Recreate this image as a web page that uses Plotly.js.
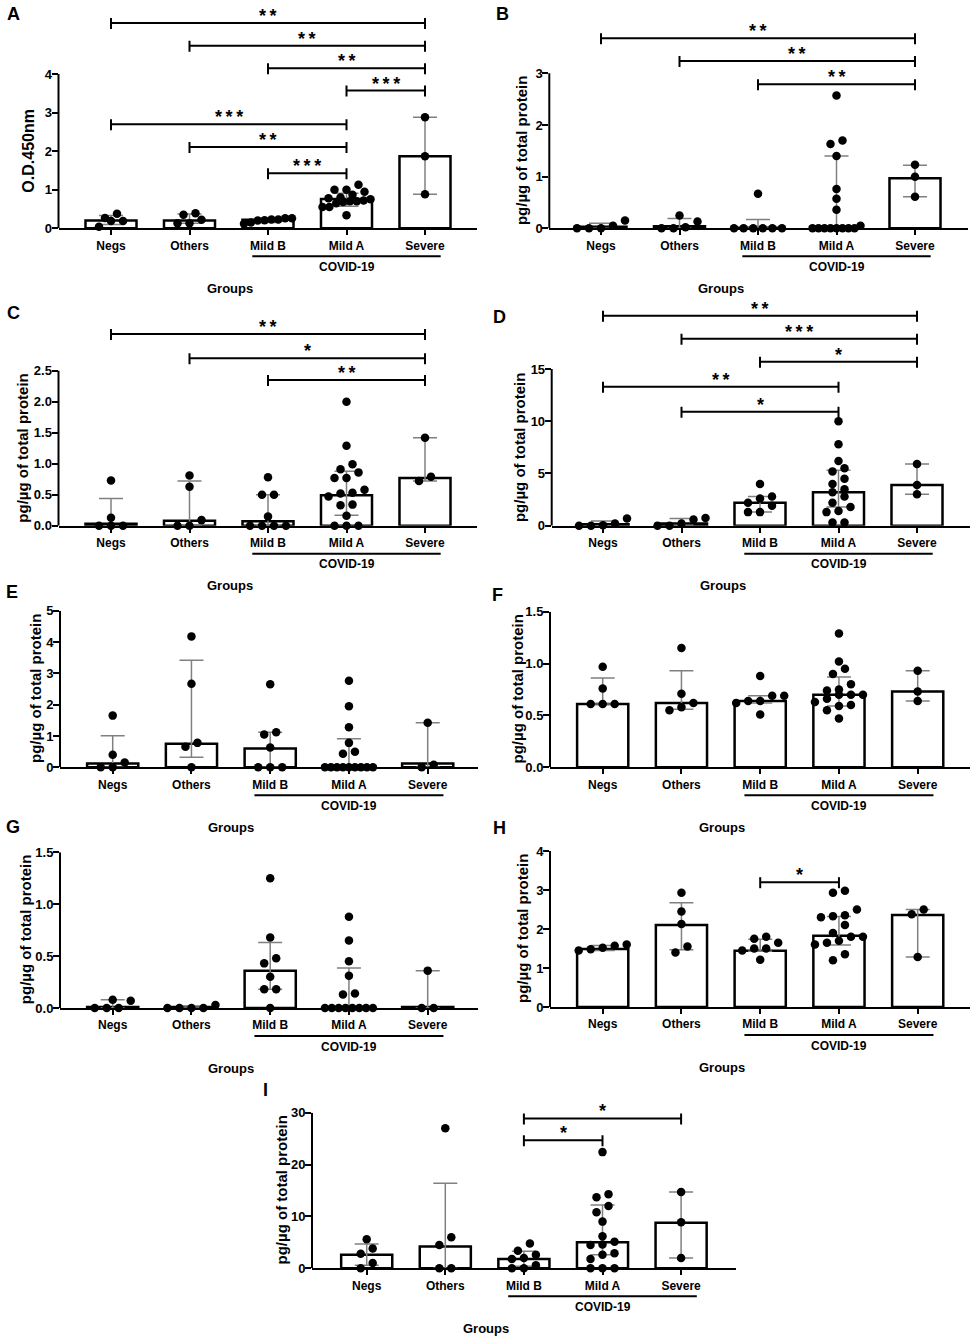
<!DOCTYPE html>
<html><head><meta charset="utf-8">
<script src="https://cdn.plot.ly/plotly-3.0.1.min.js"></script>
<style>html,body{margin:0;padding:0;background:#fff}#chart{width:975px;height:1339px}</style>
</head><body><div id="chart"></div><script>
// ---------------- DATA ----------------
const groups = ['Negs', 'Others', 'Mild B', 'Mild A', 'Severe'];
const covidLabel = 'COVID-19';
const xTitle = 'Groups';
const yTitleOD = 'O.D.450nm';
const yTitlePg = 'pg/µg of total protein';

// Panel A
const A_points = [
  [0.04, 0.19, 0.27, 0.19, 0.38],
  [0.13, 0.22, 0.39, 0.13, 0.35],
  [0.15, 0.26, 0.21, 0.23, 0.26, 0.12, 0.23, 0.20],
  [1.13, 1.00, 1.00, 0.95, 0.87, 0.80, 0.78, 0.75, 0.72, 0.70, 0.70, 0.68, 0.65, 0.55, 0.55, 0.34],
  [2.88, 1.87, 0.88]
];
const A_median = [0.20, 0.20, 0.22, 0.76, 1.87];
const A_q1 = [0.10, 0.13, 0.15, 0.57, 0.88];
const A_q3 = [0.33, 0.37, 0.26, 0.91, 2.88];
const A_yTicks = [0, 1, 2, 3, 4];
const A_yTickText = ['0', '1', '2', '3', '4'];
const A_sigFrom = [0, 1, 2, 3, 0, 1, 2];
const A_sigTo = [4, 4, 4, 4, 3, 3, 3];
const A_sigText = ['**', '**', '**', '***', '***', '**', '***'];
const A_sigLevel = [5.32, 4.73, 4.15, 3.57, 2.70, 2.11, 1.43];

// Panel B
const B_points = [
  [0.15, 0.05, 0, 0, 0],
  [0.25, 0.13, 0.02, 0, 0],
  [0.67, 0, 0, 0, 0, 0, 0],
  [2.57, 1.70, 1.63, 1.40, 0.76, 0.57, 0.36, 0.05, 0, 0, 0, 0, 0, 0, 0, 0],
  [1.23, 1.00, 0.61]
];
const B_median = [0.03, 0.04, 0.01, 0.03, 0.97];
const B_q1 = [0, 0, 0, 0, 0.61];
const B_q3 = [0.10, 0.19, 0.17, 1.40, 1.22];
const B_yTicks = [0, 1, 2, 3];
const B_yTickText = ['0', '1', '2', '3'];
const B_sigFrom = [0, 1, 2];
const B_sigTo = [4, 4, 4];
const B_sigText = ['**', '**', '**'];
const B_sigLevel = [3.68, 3.24, 2.79];

// Panel C
const C_points = [
  [0.73, 0.13, 0, 0, 0],
  [0.81, 0.63, 0.09, 0, 0],
  [0.78, 0.50, 0.50, 0.15, 0, 0, 0, 0],
  [2.00, 1.29, 0.99, 0.91, 0.86, 0.77, 0.77, 0.58, 0.53, 0.52, 0.47, 0.34, 0.33, 0.16, 0, 0, 0],
  [1.42, 0.79, 0.72]
];
const C_median = [0.03, 0.08, 0.07, 0.49, 0.77];
const C_q1 = [0, 0, 0, 0.17, 0.72];
const C_q3 = [0.44, 0.72, 0.50, 0.88, 1.42];
const C_yTicks = [0, 0.5, 1.0, 1.5, 2.0, 2.5];
const C_yTickText = ['0.0', '0.5', '1.0', '1.5', '2.0', '2.5'];
const C_sigFrom = [0, 1, 2];
const C_sigTo = [4, 4, 4];
const C_sigText = ['**', '*', '**'];
const C_sigLevel = [3.09, 2.70, 2.35];

// Panel D
const D_points = [
  [0.70, 0.20, 0.05, 0, 0],
  [0.73, 0.60, 0.20, 0, 0],
  [4.0, 2.8, 2.6, 2.2, 1.9, 1.3, 1.3],
  [10.0, 7.8, 6.2, 5.5, 5.2, 4.5, 4.0, 3.5, 3.2, 2.8, 2.2, 1.8, 1.4, 1.3, 0.3, 0.3],
  [5.9, 3.9, 3.0]
];
const D_median = [0.15, 0.20, 2.2, 3.2, 3.9];
const D_q1 = [0, 0.05, 1.3, 1.8, 3.0];
const D_q3 = [0.45, 0.70, 2.8, 5.3, 5.9];
const D_yTicks = [0, 5, 10, 15];
const D_yTickText = ['0', '5', '10', '15'];
const D_sigFrom = [0, 1, 2, 0, 1];
const D_sigTo = [4, 4, 4, 3, 3];
const D_sigText = ['**', '***', '*', '**', '*'];
const D_sigLevel = [20.1, 17.9, 15.7, 13.3, 10.9];

// Panel E
const E_points = [
  [1.65, 0.40, 0.15, 0, 0],
  [4.18, 2.67, 0.78, 0.66, 0],
  [2.65, 1.12, 1.05, 0.63, 0, 0, 0],
  [2.76, 1.95, 1.28, 0.78, 0.50, 0.43, 0, 0, 0, 0, 0, 0, 0, 0, 0],
  [1.42, 0.08, 0]
];
const E_median = [0.12, 0.75, 0.60, 0.02, 0.12];
const E_q1 = [0, 0.32, 0, 0, 0];
const E_q3 = [1.01, 3.42, 1.12, 0.91, 1.42];
const E_yTicks = [0, 1, 2, 3, 4, 5];
const E_yTickText = ['0', '1', '2', '3', '4', '5'];
const E_sigFrom = [];
const E_sigTo = [];
const E_sigText = [];
const E_sigLevel = [];

// Panel F
const F_points = [
  [0.97, 0.76, 0.61, 0.61, 0.61],
  [1.15, 0.71, 0.62, 0.58, 0.55],
  [0.88, 0.69, 0.69, 0.64, 0.64, 0.62, 0.51],
  [1.29, 1.02, 0.95, 0.90, 0.80, 0.75, 0.74, 0.70, 0.70, 0.70, 0.66, 0.63, 0.60, 0.59, 0.55, 0.47],
  [0.93, 0.73, 0.64]
];
const F_median = [0.61, 0.62, 0.64, 0.70, 0.73];
const F_q1 = [0.61, 0.56, 0.62, 0.59, 0.64];
const F_q3 = [0.86, 0.93, 0.69, 0.87, 0.93];
const F_yTicks = [0, 0.5, 1.0, 1.5];
const F_yTickText = ['0.0', '0.5', '1.0', '1.5'];
const F_sigFrom = [];
const F_sigTo = [];
const F_sigText = [];
const F_sigLevel = [];

// Panel G
const G_points = [
  [0.08, 0.07, 0, 0, 0],
  [0.03, 0, 0, 0, 0],
  [1.25, 0.68, 0.48, 0.43, 0.30, 0.18, 0.18, 0],
  [0.88, 0.65, 0.45, 0.31, 0.14, 0.13, 0, 0, 0, 0, 0, 0, 0, 0],
  [0.36, 0, 0]
];
const G_median = [0.01, 0.01, 0.36, 0.01, 0.01];
const G_q1 = [0, 0, 0.18, 0, 0];
const G_q3 = [0.08, 0.02, 0.63, 0.385, 0.36];
const G_yTicks = [0, 0.5, 1.0, 1.5];
const G_yTickText = ['0.0', '0.5', '1.0', '1.5'];
const G_sigFrom = [];
const G_sigTo = [];
const G_sigText = [];
const G_sigLevel = [];

// Panel H
const H_points = [
  [1.60, 1.57, 1.52, 1.48, 1.45],
  [2.93, 2.45, 2.13, 1.55, 1.40],
  [1.80, 1.75, 1.65, 1.50, 1.50, 1.45, 1.21],
  [2.98, 2.93, 2.50, 2.35, 2.33, 2.30, 2.10, 1.90, 1.80, 1.80, 1.70, 1.65, 1.60, 1.35, 1.20],
  [2.50, 2.38, 1.28]
];
const H_median = [1.49, 2.10, 1.44, 1.83, 2.36];
const H_q1 = [1.45, 1.47, 1.43, 1.59, 1.28];
const H_q3 = [1.58, 2.67, 1.74, 2.32, 2.50];
const H_yTicks = [0, 1, 2, 3, 4];
const H_yTickText = ['0', '1', '2', '3', '4'];
const H_sigFrom = [2];
const H_sigTo = [3];
const H_sigText = ['*'];
const H_sigLevel = [3.2];

// Panel I
const I_points = [
  [5.6, 3.8, 2.8, 1.0, 0],
  [27.0, 6.0, 4.5, 0, 0],
  [4.8, 3.4, 2.6, 2.0, 1.8, 0.6, 0, 0],
  [22.4, 14.3, 13.7, 12.0, 10.8, 9.0, 6.2, 5.1, 4.6, 4.5, 2.9, 2.6, 1.8, 0, 0, 0],
  [14.7, 8.9, 2.0]
];
const I_median = [2.6, 4.2, 1.8, 5.0, 8.8];
const I_q1 = [0.6, 0, 0.4, 2.6, 2.0];
const I_q3 = [4.7, 16.4, 3.3, 12.2, 14.7];
const I_yTicks = [0, 10, 20, 30];
const I_yTickText = ['0', '10', '20', '30'];
const I_sigFrom = [2, 2];
const I_sigTo = [4, 3];
const I_sigText = ['*', '*'];
const I_sigLevel = [28.9, 24.7];

// ---------------- LAYOUT (pixel frames of each panel) ----------------
const W = 975, H = 1339;
const FRAMES = [
  {id: 'A', left: 58.5, right: 477, cat0: 111, dx: 78.5, zero: 228.3, topPx: 74, rangeTop: 5.85, titleShift: -30, titleSize: 16, lx: 13, ly: 14},
  {id: 'B', left: 549.3, right: 968, cat0: 601, dx: 78.5, zero: 228.3, topPx: 73.3, rangeTop: 4.3, titleShift: -27, titleSize: 15, lx: 503, ly: 14},
  {id: 'C', left: 58.5, right: 477, cat0: 111, dx: 78.5, zero: 525.7, topPx: 370.7, rangeTop: 3.4, titleShift: -36, titleSize: 15, lx: 13, ly: 313},
  {id: 'D', left: 551.7, right: 970, cat0: 603, dx: 78.5, zero: 525.7, topPx: 369, rangeTop: 21, titleShift: -32, titleSize: 15, lx: 500, ly: 317},
  {id: 'E', left: 60, right: 478, cat0: 112.7, dx: 78.75, zero: 767.3, topPx: 610.7, rangeTop: 5, titleShift: -25, titleSize: 15, lx: 12, ly: 592},
  {id: 'F', left: 550, right: 970, cat0: 602.7, dx: 78.75, zero: 767.3, topPx: 611.7, rangeTop: 1.5, titleShift: -33, titleSize: 15, lx: 497, ly: 595},
  {id: 'G', left: 60, right: 478, cat0: 112.7, dx: 78.75, zero: 1008, topPx: 852.3, rangeTop: 1.5, titleShift: -35, titleSize: 15, lx: 13, ly: 827},
  {id: 'H', left: 550, right: 970, cat0: 602.7, dx: 78.75, zero: 1007, topPx: 851, rangeTop: 4, titleShift: -28, titleSize: 15, lx: 500, ly: 828},
  {id: 'I', left: 312, right: 736, cat0: 366.7, dx: 78.6, zero: 1268.3, topPx: 1112.7, rangeTop: 30, titleShift: -31, titleSize: 15, lx: 265, ly: 1090}
];

const PANELS = [
  {points: A_points, median: A_median, q1: A_q1, q3: A_q3, ticks: A_yTicks, tickText: A_yTickText, sigFrom: A_sigFrom, sigTo: A_sigTo, sigText: A_sigText, sigLevel: A_sigLevel, yTitle: yTitleOD},
  {points: B_points, median: B_median, q1: B_q1, q3: B_q3, ticks: B_yTicks, tickText: B_yTickText, sigFrom: B_sigFrom, sigTo: B_sigTo, sigText: B_sigText, sigLevel: B_sigLevel, yTitle: yTitlePg},
  {points: C_points, median: C_median, q1: C_q1, q3: C_q3, ticks: C_yTicks, tickText: C_yTickText, sigFrom: C_sigFrom, sigTo: C_sigTo, sigText: C_sigText, sigLevel: C_sigLevel, yTitle: yTitlePg},
  {points: D_points, median: D_median, q1: D_q1, q3: D_q3, ticks: D_yTicks, tickText: D_yTickText, sigFrom: D_sigFrom, sigTo: D_sigTo, sigText: D_sigText, sigLevel: D_sigLevel, yTitle: yTitlePg},
  {points: E_points, median: E_median, q1: E_q1, q3: E_q3, ticks: E_yTicks, tickText: E_yTickText, sigFrom: E_sigFrom, sigTo: E_sigTo, sigText: E_sigText, sigLevel: E_sigLevel, yTitle: yTitlePg},
  {points: F_points, median: F_median, q1: F_q1, q3: F_q3, ticks: F_yTicks, tickText: F_yTickText, sigFrom: F_sigFrom, sigTo: F_sigTo, sigText: F_sigText, sigLevel: F_sigLevel, yTitle: yTitlePg},
  {points: G_points, median: G_median, q1: G_q1, q3: G_q3, ticks: G_yTicks, tickText: G_yTickText, sigFrom: G_sigFrom, sigTo: G_sigTo, sigText: G_sigText, sigLevel: G_sigLevel, yTitle: yTitlePg},
  {points: H_points, median: H_median, q1: H_q1, q3: H_q3, ticks: H_yTicks, tickText: H_yTickText, sigFrom: H_sigFrom, sigTo: H_sigTo, sigText: H_sigText, sigLevel: H_sigLevel, yTitle: yTitlePg},
  {points: I_points, median: I_median, q1: I_q1, q3: I_q3, ticks: I_yTicks, tickText: I_yTickText, sigFrom: I_sigFrom, sigTo: I_sigTo, sigText: I_sigText, sigLevel: I_sigLevel, yTitle: yTitlePg}
];

const FONT = 'Liberation Sans, Arial, Helvetica, sans-serif';
const DOT = 8.5;

// Horizontal scatter spreading (points with close values share a row, centred)
function swarmOffsets(values, pxPerUnit, pxPerCat) {
  const order = values.map((v, i) => i).sort((a, b) => values[a] - values[b]);
  const off = new Array(values.length).fill(0);
  let bin = [], start = 0;
  const flush = () => {
    const k = bin.length;
    const sp = k > 1 ? Math.min(12, 48 / (k - 1)) : 0;
    bin.forEach((i, j) => { off[i] = (j - (k - 1) / 2) * sp / pxPerCat; });
    bin = [];
  };
  order.forEach(i => {
    const p = values[i] * pxPerUnit;
    if (bin.length && p - start > 8) flush();
    if (!bin.length) start = p;
    bin.push(i);
  });
  flush();
  return off;
}

const traces = [], shapes = [], annotations = [];
const layout = {
  width: W, height: H, margin: {l: 0, r: 0, t: 0, b: 0},
  paper_bgcolor: 'white', plot_bgcolor: 'rgba(0,0,0,0)', showlegend: false,
  font: {family: FONT, color: 'black'}
};

PANELS.forEach((p, k) => {
  const f = FRAMES[k];
  const n = k === 0 ? '' : String(k + 1);
  const xa = 'x' + n, ya = 'y' + n;
  const top = p.ticks[p.ticks.length - 1];
  const pxu = (f.zero - f.topPx) / top;
  const idx = groups.map((g, i) => i);

  layout['xaxis' + n] = {
    domain: [f.left / W, f.right / W], anchor: ya,
    range: [(f.left - f.cat0) / f.dx, (f.right - f.cat0) / f.dx],
    tickvals: idx, ticktext: groups,
    ticks: 'outside', ticklen: 5, tickwidth: 2, tickcolor: 'black',
    showline: true, linewidth: 2, linecolor: 'black',
    showgrid: false, zeroline: false, fixedrange: true,
    tickfont: {family: FONT, size: 12, weight: 'bold', color: 'black'}
  };
  layout['yaxis' + n] = {
    domain: [1 - f.zero / H, Math.min(1, 1 - (f.zero - f.rangeTop * pxu) / H)], anchor: xa,
    range: [0, f.rangeTop],
    tickvals: p.ticks, ticktext: p.tickText,
    ticks: 'outside', ticklen: 6, tickwidth: 2, tickcolor: 'black',
    ticklabelstandoff: -3,
    showline: false, showgrid: false, zeroline: false, fixedrange: true,
    tickfont: {family: FONT, size: 13, weight: 'bold', color: 'black'}
  };

  // bars (median) with IQR error bars
  traces.push({
    type: 'bar', x: idx, y: p.median, width: 0.65, xaxis: xa, yaxis: ya,
    marker: {color: 'white', line: {color: 'black', width: 2.5}},
    error_y: {
      type: 'data', symmetric: false,
      array: p.q3.map((v, i) => v - p.median[i]),
      arrayminus: p.median.map((v, i) => v - p.q1[i]),
      color: '#808080', thickness: 1.5, width: 12
    },
    hoverinfo: 'skip'
  });

  // individual points
  const xs = [], ys = [];
  p.points.forEach((vals, gi) => {
    const off = swarmOffsets(vals, pxu, f.dx);
    vals.forEach((v, j) => { xs.push(gi + off[j]); ys.push(v); });
  });
  traces.push({
    type: 'scatter', mode: 'markers', x: xs, y: ys, xaxis: xa, yaxis: ya,
    marker: {color: 'black', size: DOT}, cliponaxis: false, hoverinfo: 'skip'
  });

  // y axis line (only up to the top tick)
  shapes.push({type: 'line', xref: xa + ' domain', yref: ya, x0: 0, x1: 0, y0: 0, y1: top,
    line: {color: 'black', width: 2}});

  // COVID-19 underline
  const iB = groups.indexOf('Mild B'), iS = groups.indexOf('Severe'), iA = groups.indexOf('Mild A');
  shapes.push({type: 'line', xref: xa, yref: ya + ' domain', ysizemode: 'pixel', yanchor: 0,
    x0: iB - 0.2, x1: iS + 0.2, y0: -28, y1: -28, line: {color: 'black', width: 2}});
  annotations.push({xref: xa, yref: ya + ' domain', x: iA, y: 0, yshift: -38.5, xanchor: 'center', yanchor: 'middle',
    text: covidLabel, showarrow: false, font: {family: FONT, size: 12, weight: 'bold', color: 'black'}});

  // x title
  annotations.push({xref: xa + ' domain', yref: ya + ' domain', x: 0.41, y: 0, yshift: -60, xanchor: 'center', yanchor: 'middle',
    text: xTitle, showarrow: false, font: {family: FONT, size: 13, weight: 'bold', color: 'black'}});

  // y title
  annotations.push({xref: xa + ' domain', yref: ya, x: 0, xshift: f.titleShift, y: top / 2, xanchor: 'center', yanchor: 'middle',
    textangle: -90, text: p.yTitle, showarrow: false, font: {family: FONT, size: f.titleSize, weight: 'bold', color: 'black'}});

  // panel letter
  annotations.push({xref: 'paper', yref: 'paper', x: f.lx / W, y: 1 - f.ly / H, xanchor: 'center', yanchor: 'middle',
    text: f.id, showarrow: false, font: {family: FONT, size: 18, weight: 'bold', color: 'black'}});

  // significance brackets
  p.sigFrom.forEach((a, i) => {
    const b = p.sigTo[i], lv = p.sigLevel[i];
    shapes.push({type: 'line', xref: xa, yref: ya, x0: a, x1: b, y0: lv, y1: lv, line: {color: 'black', width: 2}});
    [a, b].forEach(e => shapes.push({type: 'line', xref: xa, yref: ya, ysizemode: 'pixel', yanchor: lv,
      x0: e, x1: e, y0: -6, y1: 5, line: {color: 'black', width: 2}}));
    annotations.push({xref: xa, yref: ya, x: (a + b) / 2, y: lv, yshift: -5, xanchor: 'center', yanchor: 'bottom',
      text: p.sigText[i].split('').join('\u2009'), showarrow: false,
      font: {family: FONT, size: 18, weight: 'bold', color: 'black'}});
  });
});

layout.shapes = shapes;
layout.annotations = annotations;
Plotly.newPlot('chart', traces, layout, {displayModeBar: false, staticPlot: true});
</script></body></html>
